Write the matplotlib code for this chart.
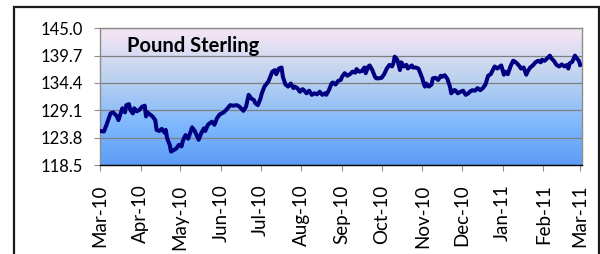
import numpy as np
import pandas as pd
import matplotlib
matplotlib.use("Agg")
import matplotlib.pyplot as plt
import matplotlib.dates as mdates
from matplotlib.colors import LinearSegmentedColormap
from matplotlib.patches import Rectangle

# ---- data -------------------------------------------------------------
start_date = "2010-03-01"
day_offsets = [0, 3, 5, 8, 10, 13, 14, 17, 19, 20, 22, 23, 25, 26, 28, 30, 32, 34, 35, 36,
               38, 40, 42, 43, 45, 47, 49, 50, 51, 53, 54, 56, 58, 60, 62, 63, 65, 67, 68, 70,
               72, 74, 75, 77, 79, 80, 82, 84, 85, 87, 89,
               91, 94, 96, 99, 101, 104, 106, 109, 111, 113, 115, 117, 118, 120, 122, 123, 125,
               128, 129, 131, 133, 134, 136, 138, 139, 141, 143, 145, 147, 148, 150, 152, 154,
               155, 157, 159, 161, 163, 165, 167, 169, 171, 172, 174, 176, 177, 179, 181,
               183, 184, 186, 188, 190, 192, 194, 195, 197, 199, 201, 202, 204, 205, 207, 209,
               210, 212, 214, 216, 218, 220, 222, 223, 224, 226, 227, 228, 229, 231, 233, 234,
               237, 238, 240, 242, 243, 245, 246, 247, 248, 250, 252, 253, 255, 257, 259, 260,
               262, 264, 266, 267, 269, 270, 272, 274,
               276, 278, 280, 281, 283, 285, 287, 289, 291, 293, 295, 297, 298, 300, 302, 303,
               305, 307, 308, 310, 312, 314, 315, 317, 319, 320, 322, 324, 325, 327, 329, 331,
               333, 335, 336, 338, 340, 342, 343, 345, 347, 349, 351, 353, 355, 356, 357, 359,
               361, 362, 364, 365]
gbp_values = [125.1, 125.0, 126.3, 128.5, 128.7, 127.9, 127.2, 129.5, 128.7, 130.1, 130.3, 129.2,
              128.5, 129.5, 128.9, 129.2, 129.8, 130.0, 127.9, 128.7, 128.3, 127.9, 127.2, 125.3,
              125.1, 125.5, 124.8, 125.3, 123.7, 122.4, 121.1, 121.4, 121.7, 122.4, 122.1, 123.2,
              124.3, 123.6, 124.3, 125.8, 125.1, 124.0, 123.4, 124.7, 125.6, 125.1, 126.3, 126.7,
              126.9, 126.3, 127.6,
              128.3, 128.7, 129.2, 130.1, 130.0, 130.1, 129.8, 129.0, 129.8, 132.1, 131.4, 131.1,
              130.5, 130.1, 131.4, 132.4, 133.7, 134.7, 135.3, 136.6, 136.9, 136.1, 137.2, 137.4,
              135.6, 134.1, 133.7, 134.3, 133.4, 133.7, 133.4, 132.7, 133.2, 133.0, 132.4, 132.9,
              132.1, 132.4, 132.2, 132.7, 132.1, 132.4, 132.1, 133.0, 134.3, 134.5, 134.1, 134.8,
              135.0, 135.6, 136.3, 135.8, 136.1, 136.6, 136.4, 137.1, 136.6, 136.7, 137.4, 136.3,
              137.6, 137.8, 136.9, 135.6, 135.3, 135.3, 135.4, 136.1, 137.2, 137.9, 137.6, 138.2,
              139.5, 138.9, 137.9, 136.9, 138.4, 137.6, 137.9, 137.2, 137.8, 137.4, 137.4, 137.2,
              136.6, 135.3, 134.3, 133.7, 134.3, 133.7, 134.1, 135.3, 135.4, 135.0, 135.8, 135.6,
              135.9, 135.2, 133.7, 132.4, 133.0, 133.0, 132.4, 132.7,
              132.9, 132.1, 132.4, 132.7, 133.0, 132.9, 133.4, 133.0, 133.4, 134.1, 135.8, 136.1,
              136.6, 137.6, 137.2, 137.4, 137.8, 136.0, 136.6, 136.1, 137.6, 138.7, 138.6, 138.2,
              137.6, 137.2, 137.4, 136.0, 136.6, 137.4, 137.8, 138.4, 138.7, 138.4, 138.9, 138.7,
              139.2, 139.7, 139.2, 138.7, 137.9, 137.6, 138.0, 137.6, 137.9, 137.2, 138.2, 138.5,
              139.7, 139.3, 138.7, 137.9]
y_ticks = [118.5, 123.8, 129.1, 134.4, 139.7, 145.0]
month_ticks = pd.date_range("2010-03-01", "2011-03-01", freq="MS")
title_text = "Pound Sterling"

dates = pd.Timestamp(start_date) + pd.to_timedelta(day_offsets, unit="D")

# ---- figure -----------------------------------------------------------
plt.rcParams["font.family"] = ["Lato", "DejaVu Sans"]
fig = plt.figure(figsize=(6.0, 2.54), dpi=100)
fig.patch.set_facecolor("white")

# outer chart frame
fig.patches.append(Rectangle((14 / 600, -0.05), (599 - 14) / 600, 1.05 - 7 / 254,
                             transform=fig.transFigure, fill=False,
                             edgecolor="#1a1a1a", linewidth=1.6, zorder=0))

ax = fig.add_axes([100 / 600, 1 - 165 / 254, (581.5 - 100) / 600, (165 - 28.3) / 254])

# gradient background
cmap = LinearSegmentedColormap.from_list(
    "bg", [(0.0, "#5B9CF6"), (0.3, "#80B8FD"), (0.62, "#B9D1EF"), (1.0, "#F8E6F4")])
grad = np.linspace(0, 1, 256).reshape(-1, 1)
ax.imshow(grad, extent=[0, 1, 0, 1], transform=ax.transAxes, origin="lower",
          cmap=cmap, aspect="auto", zorder=0)

ax.plot(dates, gbp_values, color="#000080", linewidth=2.9, solid_joinstyle="round",
        zorder=3)

ax.set_ylim(118.5, 145.0)
ax.set_yticks(y_ticks)
ax.set_yticklabels([f"{v:.1f}" for v in y_ticks])
ax.set_xlim(pd.Timestamp("2010-03-01"), pd.Timestamp("2011-03-02"))
ax.set_xticks(month_ticks)
ax.xaxis.set_major_formatter(mdates.DateFormatter("%b-%y"))
plt.setp(ax.get_xticklabels(), rotation=90, ha="center", va="top")

ax.grid(axis="y", color="#7f7f7f", linewidth=0.9, zorder=1)
for gl in ax.get_ygridlines():
    gl.set_zorder(1)

for side in ["top", "right", "left"]:
    ax.spines[side].set_color("#8c8c8c")
    ax.spines[side].set_linewidth(1.0)
ax.spines["bottom"].set_color("#000000")
ax.spines["bottom"].set_linewidth(1.0)

ax.tick_params(axis="y", labelsize=12, labelcolor="#000000", length=4, width=0.8,
               direction="out", pad=8.5, color="#8c8c8c")
ax.tick_params(axis="x", labelsize=13.5, labelcolor="#000000", length=4, width=0.8,
               direction="out", pad=10, color="#8c8c8c")

ax.text((127 - 100) / 481.5, (165 - 51.7) / 136.7, title_text, transform=ax.transAxes,
        fontsize=14.5, fontweight="bold", ha="left", va="baseline", color="#000000",
        zorder=4)

fig.savefig("out.png", dpi=100)
